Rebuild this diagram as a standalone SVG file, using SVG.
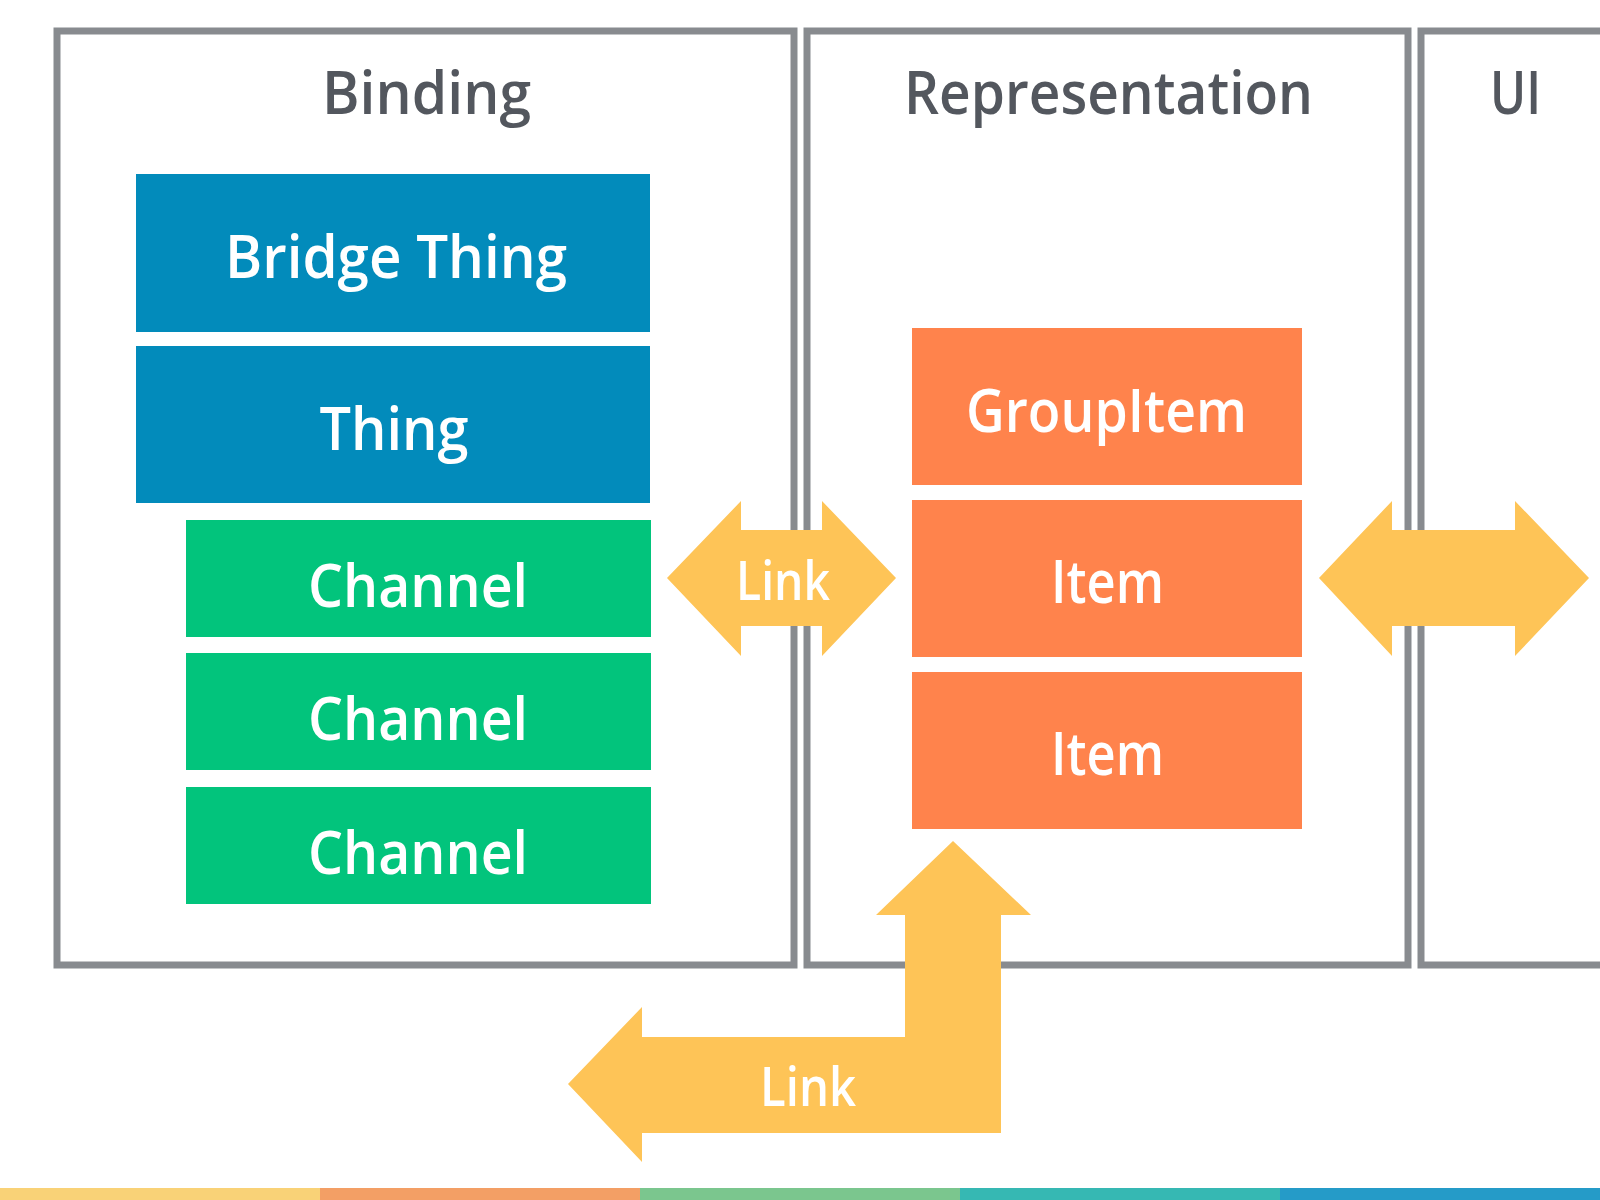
<svg xmlns="http://www.w3.org/2000/svg" width="1600" height="1200" viewBox="0 0 1600 1200">
<style>
.frame{fill:none;stroke:#888b8f;stroke-width:7}
.title{font-family:"Open Sans","Noto Sans",sans-serif;font-size:60px;font-weight:600;fill:#53575e;text-anchor:middle}
.lbl{font-family:"Open Sans","Noto Sans",sans-serif;font-size:60px;font-weight:600;fill:#ffffff;text-anchor:middle}
.link{font-family:"Open Sans","Noto Sans",sans-serif;font-size:54px;font-weight:600;fill:#ffffff;text-anchor:middle}
.blue{fill:#028bbb}
.green{fill:#02c47c}
.orange{fill:#ff834c}
.arrow{fill:#fec457}
</style>
<rect width="1600" height="1200" fill="#ffffff"/>
<g id="frame-binding">
<rect class="frame" x="57" y="31" width="737" height="934"/>
<text class="title" x="426.5" y="114" textLength="209" lengthAdjust="spacingAndGlyphs">Binding</text>
</g>
<g id="frame-representation">
<rect class="frame" x="807" y="31" width="601" height="934"/>
<text class="title" x="1108.5" y="114" textLength="409" lengthAdjust="spacingAndGlyphs">Representation</text>
</g>
<g id="frame-ui">
<rect class="frame" x="1421" y="31" width="400" height="934"/>
<text class="title" x="1515.5" y="114" textLength="51" lengthAdjust="spacingAndGlyphs">UI</text>
</g>
<g id="bridge-thing">
<rect class="blue" x="136" y="174" width="514" height="158"/>
<text class="lbl" x="396" y="278" textLength="342" lengthAdjust="spacingAndGlyphs">Bridge Thing</text>
</g>
<g id="thing">
<rect class="blue" x="136" y="346" width="514" height="157"/>
<text class="lbl" x="394" y="450" textLength="149" lengthAdjust="spacingAndGlyphs">Thing</text>
</g>
<g id="channel-1">
<rect class="green" x="186" y="520" width="465" height="117"/>
<text class="lbl" x="418" y="607" textLength="220" lengthAdjust="spacingAndGlyphs">Channel</text>
</g>
<g id="channel-2">
<rect class="green" x="186" y="653" width="465" height="117"/>
<text class="lbl" x="418" y="740" textLength="220" lengthAdjust="spacingAndGlyphs">Channel</text>
</g>
<g id="channel-3">
<rect class="green" x="186" y="787" width="465" height="117"/>
<text class="lbl" x="418" y="874" textLength="220" lengthAdjust="spacingAndGlyphs">Channel</text>
</g>
<g id="group-item">
<rect class="orange" x="912" y="328" width="390" height="157"/>
<text class="lbl" x="1106.5" y="432" textLength="281" lengthAdjust="spacingAndGlyphs">GroupItem</text>
</g>
<g id="item-1">
<rect class="orange" x="912" y="500" width="390" height="157"/>
<text class="lbl" x="1107.5" y="603" textLength="113" lengthAdjust="spacingAndGlyphs">Item</text>
</g>
<g id="item-2">
<rect class="orange" x="912" y="672" width="390" height="157"/>
<text class="lbl" x="1107.5" y="775" textLength="113" lengthAdjust="spacingAndGlyphs">Item</text>
</g>
<g id="connectors">
<g id="link-channel-item">
<polygon class="arrow" points="667,578 741,501 741,530 822,530 822,501 896,578 822,656 822,626 741,626 741,656"/>
<text class="link" x="783" y="600" textLength="94" lengthAdjust="spacingAndGlyphs">Link</text>
</g>
<g id="item-ui">
<polygon class="arrow" points="1319,578 1392,501 1392,530 1515,530 1515,501 1589,578 1515,656 1515,626 1392,626 1392,656"/>
</g>
<g id="link-bottom">
<polygon class="arrow" points="953,841 1031,915 1001,915 1001,1133 642,1133 642,1162 568,1084 642,1007 642,1037 905,1037 905,915 876,915"/>
<text class="link" x="808" y="1106" textLength="96" lengthAdjust="spacingAndGlyphs">Link</text>
</g>
</g>
<g id="color-bar">
<rect x="0" y="1188" width="320" height="12" fill="#f9d277"/>
<rect x="320" y="1188" width="320" height="12" fill="#f39f65"/>
<rect x="640" y="1188" width="320" height="12" fill="#7bc68e"/>
<rect x="960" y="1188" width="320" height="12" fill="#36b8b3"/>
<rect x="1280" y="1188" width="320" height="12" fill="#259bc8"/>
</g>
</svg>
